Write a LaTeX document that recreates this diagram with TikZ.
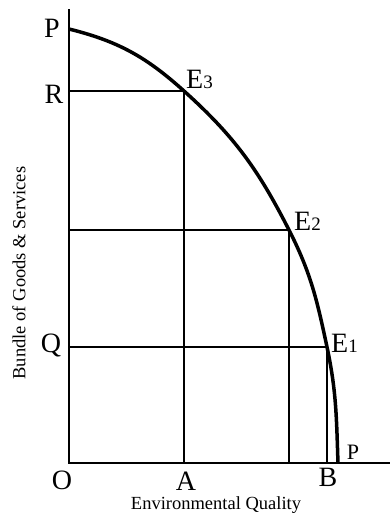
\documentclass[tikz,border=0pt]{standalone}
\usepackage{fontspec}
\setmainfont{Liberation Serif}
\begin{document}
\begin{tikzpicture}[x=1pt,y=-1pt,
  axis/.style={line width=2pt},
  grid/.style={line width=1.7pt},
  ppc/.style={line width=3.5pt},
  lbl/.style={font=\fontsize{28}{32}\selectfont, inner sep=0pt},
  ttl/.style={font=\fontsize{18.5}{22}\selectfont, inner sep=0pt}]
\useasboundingbox (0,0) rectangle (390,515);
% key points
\coordinate (O) at (69,463);
\coordinate (Ytop) at (69,9);
\coordinate (Xend) at (390,463);
\coordinate (Ptop) at (69,29);
\coordinate (E3) at (184,91);
\coordinate (E2) at (289,230);
\coordinate (E1) at (327,347);
\coordinate (Pbot) at (338,463);
\coordinate (R) at (69,91);
\coordinate (M) at (69,230);
\coordinate (Q) at (69,347);
\coordinate (A) at (184,463);
\coordinate (C) at (289,463);
\coordinate (B) at (327,463);
% axes
\draw[axis] (Ytop) -- (O) -- (Xend);
% grid lines
\draw[grid] (R) -- (E3) -- (A);
\draw[grid] (M) -- (E2) -- (C);
\draw[grid] (Q) -- (E1) -- (B);
% curve
\draw[ppc] (Ptop) to[out=-14, in=138] (E3)
                  to[out=-42, in=117] (E2)
                  to[out=-63, in=102] (E1)
                  to[out=-78, in=92] (Pbot);
% labels
\node[lbl] (lP) at (52,28) {P};
\node[lbl] (lR) at (54,94) {R};
\node[lbl] (lQ) at (51,345) {Q};
\node[lbl] (lO) at (62,480) {O};
\node[lbl] (lA) at (186,481) {A};
\node[lbl] (lB) at (328,477) {B};
\node[lbl, font=\fontsize{22}{26}\selectfont] (lP2) at (353,452) {P};
\node[lbl, anchor=base west] (lE3) at (186,88) {E{\fontsize{19}{22}\selectfont 3}};
\node[lbl, anchor=base west] (lE2) at (294,230) {E{\fontsize{19}{22}\selectfont 2}};
\node[lbl, anchor=base west] (lE1) at (331,352) {E{\fontsize{19}{22}\selectfont 1}};
\node[ttl] (xt) at (216,505) {Environmental Quality};
\node[ttl, rotate=90] (yt) at (19,273) {Bundle of Goods \& Services};
\end{tikzpicture}
\end{document}
